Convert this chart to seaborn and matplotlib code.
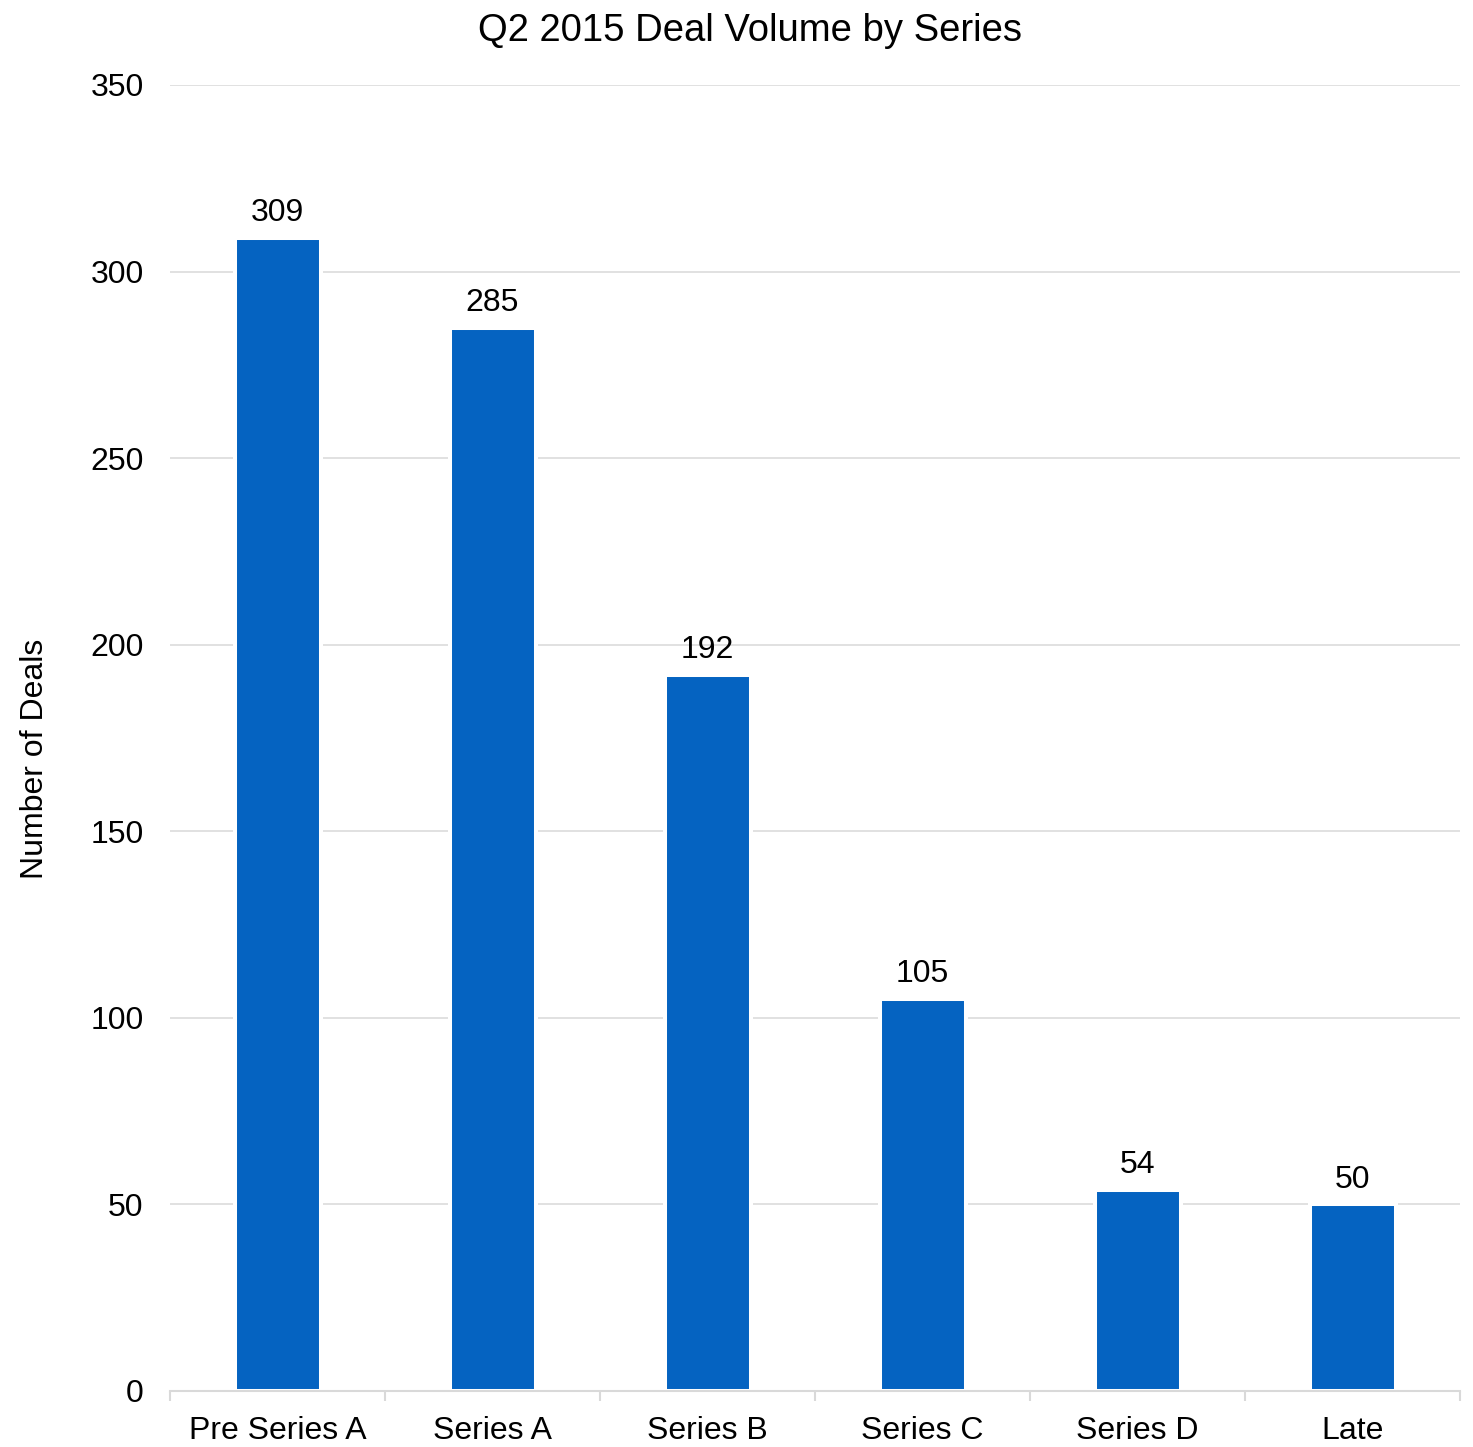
import matplotlib
matplotlib.use("Agg")
import matplotlib.pyplot as plt
import seaborn as sns
import pandas as pd
import numpy as np

# Deal counts per funding series, Q2 2015
series = ["Pre Series A", "Series A", "Series B", "Series C", "Series D", "Late"]
deals = [309, 285, 192, 105, 54, 50]

title = "Q2 2015 Deal Volume by Series"
y_label = "Number of Deals"
y_ticks = [0, 50, 100, 150, 200, 250, 300, 350]

BAR_BLUE = "#0563C1"
GRID_GREY = "#D9D9D9"

sns.set_theme(style="white")
plt.rcParams["font.family"] = ["Liberation Sans", "DejaVu Sans"]

df = pd.DataFrame({"series": series, "deals": deals})

fig = plt.figure(figsize=(14.73, 14.47), dpi=100)
ax = fig.add_axes([170 / 1473, 1 - 1391 / 1447, 1290 / 1473, 1306 / 1447])

sns.barplot(data=df, x="series", y="deals", color=BAR_BLUE, saturation=1,
            width=0.4, edgecolor="white", linewidth=2.9, ax=ax, zorder=3)

ax.set_ylim(0, 350)
ax.set_xlim(-0.5, len(series) - 0.5)
ax.set_yticks(y_ticks)
ax.set_yticklabels([str(v) for v in y_ticks])
ax.yaxis.grid(True, color=GRID_GREY, linewidth=1.1, zorder=0)
ax.set_axisbelow(True)

for side in ["left", "right", "top"]:
    ax.spines[side].set_visible(False)
ax.spines["bottom"].set_color(GRID_GREY)
ax.spines["bottom"].set_linewidth(1.5)
ax.spines["bottom"].set_zorder(4)

# category separators as small ticks below the axis
ax.set_xticks(np.arange(-0.5, len(series), 1.0), minor=True)
ax.tick_params(axis="x", which="minor", bottom=True, length=7, width=1.5,
               color=GRID_GREY, direction="out")
ax.tick_params(axis="x", which="major", bottom=True, length=0, pad=18,
               labelsize=23, labelcolor="black")
ax.tick_params(axis="y", length=0, pad=19, labelsize=23, labelcolor="black")

ax.set_xlabel("")
ax.set_ylabel("")

for container in ax.containers:
    ax.bar_label(container, labels=[str(v) for v in deals], padding=7,
                 fontsize=23, color="black")

fig.text(750 / 1473, 1 - 31 / 1447, title, ha="center", va="center",
         fontsize=27.5, color="black")
fig.text(35 / 1473, 1 - 759 / 1447, y_label, ha="center", va="center",
         rotation=90, fontsize=23, color="black")

fig.savefig("out.png", dpi=100, facecolor="white")
